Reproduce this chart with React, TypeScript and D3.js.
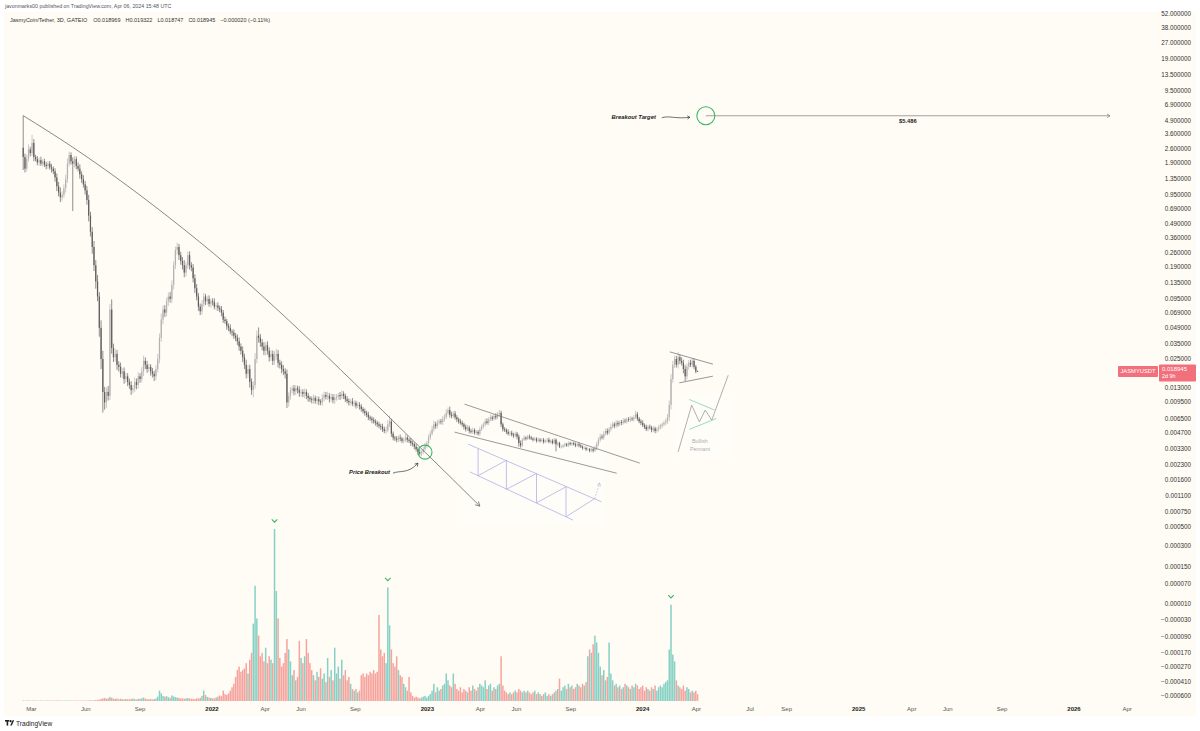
import React from 'react';
import * as d3 from 'd3';

// ---------------- DATA ----------------
const FIRST_DATE = '2021-02-15'; // first 3D candle
const FIRST_OPEN = 2.7;
const closes: number[] = [
  2.2, 1.7, 2.1, 2.6, 2.4, 3.0, 2.2, 2.1, 1.95, 2.05,
  1.9, 2.0, 1.85, 1.8, 1.9, 1.75, 1.7, 1.6, 1.4, 1.15,
  1.0, 0.9, 0.95, 1.1, 1.35, 1.9, 2.3, 2.0, 1.9, 2.1,
  1.8, 1.7, 1.5, 1.35, 1.2, 1.05, 0.85, 0.6, 0.42, 0.3,
  0.2, 0.14, 0.1, 0.05, 0.025, 0.012, 0.0095, 0.012, 0.011, 0.075,
  0.032, 0.026, 0.028, 0.022, 0.021, 0.018, 0.019, 0.016, 0.017, 0.015,
  0.014, 0.0125, 0.013, 0.015, 0.014, 0.017, 0.016, 0.019, 0.024, 0.022,
  0.02, 0.021, 0.019, 0.018, 0.017, 0.02, 0.025, 0.04, 0.06, 0.075,
  0.07, 0.09, 0.1, 0.095, 0.13, 0.2, 0.28, 0.3, 0.25, 0.22,
  0.2, 0.17, 0.2, 0.25, 0.2, 0.19, 0.15, 0.12, 0.1, 0.08,
  0.072, 0.085, 0.1, 0.09, 0.095, 0.085, 0.09, 0.088, 0.08, 0.082,
  0.078, 0.075, 0.07, 0.06, 0.058, 0.052, 0.05, 0.046, 0.045, 0.042,
  0.04, 0.037, 0.033, 0.03, 0.026, 0.022, 0.018, 0.02, 0.015, 0.0125,
  0.014, 0.025, 0.042, 0.04, 0.036, 0.033, 0.03, 0.034, 0.03, 0.026,
  0.028, 0.024, 0.027, 0.028, 0.023, 0.022, 0.02, 0.019, 0.018, 0.0095,
  0.011, 0.0125, 0.013, 0.0122, 0.013, 0.0125, 0.0118, 0.012, 0.0115, 0.012,
  0.011, 0.0105, 0.0102, 0.01, 0.0105, 0.0098, 0.0102, 0.0097, 0.0095, 0.0105,
  0.0112, 0.0108, 0.011, 0.0103, 0.0107, 0.01, 0.0105, 0.0108, 0.0112, 0.0109,
  0.0115, 0.011, 0.0102, 0.0098, 0.0095, 0.0097, 0.0092, 0.0094, 0.0088, 0.009,
  0.0087, 0.0082, 0.0078, 0.0075, 0.0072, 0.0068, 0.0066, 0.0064, 0.0062, 0.006,
  0.0058, 0.0056, 0.0055, 0.0052, 0.005, 0.0051, 0.0058, 0.0062, 0.0047, 0.0043,
  0.0042, 0.0041, 0.0043, 0.0042, 0.004, 0.0041, 0.0043, 0.0041, 0.004, 0.0038,
  0.0037, 0.0035, 0.0033, 0.0031, 0.003, 0.0031, 0.0033, 0.0036, 0.0038, 0.0043,
  0.0047, 0.0052, 0.0058, 0.0056, 0.006, 0.0062, 0.0061, 0.0065, 0.0068, 0.0075,
  0.008, 0.0072, 0.007, 0.0074, 0.0068, 0.0065, 0.0062, 0.006, 0.0058, 0.0055,
  0.0052, 0.0054, 0.005, 0.0049, 0.0051, 0.0048, 0.0049, 0.0047, 0.0052, 0.0055,
  0.0058, 0.0062, 0.006, 0.0065, 0.0068, 0.0066, 0.007, 0.0068, 0.0073, 0.0075,
  0.0058, 0.0052, 0.0051, 0.0049, 0.0047, 0.0048, 0.0046, 0.0045, 0.0047, 0.0044,
  0.0038, 0.0036, 0.0041, 0.0043, 0.0042, 0.0044, 0.0043, 0.0042, 0.0041, 0.0042,
  0.004, 0.0041, 0.004, 0.0041, 0.0039, 0.004, 0.0041, 0.0039, 0.004, 0.0038,
  0.0041, 0.0037, 0.0038, 0.0035, 0.0035, 0.0036, 0.0037, 0.0036, 0.0038, 0.0037,
  0.0038, 0.0037, 0.0036, 0.0037, 0.0036, 0.0035, 0.0034, 0.0034, 0.0033, 0.0033,
  0.0032, 0.0033, 0.0032, 0.0034, 0.0037, 0.0041, 0.0044, 0.0043, 0.0047, 0.005,
  0.0048, 0.0052, 0.0055, 0.0058, 0.0056, 0.006, 0.0058, 0.0061, 0.006, 0.0063,
  0.0062, 0.0065, 0.0064, 0.0066, 0.0065, 0.0068, 0.0073, 0.0066, 0.0062, 0.006,
  0.0057, 0.0055, 0.0052, 0.0055, 0.0054, 0.0051, 0.0053, 0.005, 0.0052, 0.0054,
  0.0056, 0.0058, 0.006, 0.0062, 0.0068, 0.009, 0.016, 0.022, 0.025, 0.022,
  0.026, 0.024, 0.023, 0.02, 0.017, 0.021, 0.023, 0.022, 0.024, 0.021,
  0.018969, 0.018945,
];
// upper / lower wick length, % beyond the candle body
const wickUp: number[] = [
  104, 8, 10, 12, 6, 20, 9, 5, 7, 6, 8, 5, 6, 7, 5, 6, 8, 5, 7, 9,
  10, 12, 8, 9, 10, 12, 8, 6, 9, 7, 6, 8, 10, 7, 9, 8, 10, 12, 9, 11,
  14, 12, 15, 10, 18, 20, 12, 10, 14, 13, 25, 10, 12, 9, 8, 10, 7, 9, 8, 7,
  8, 9, 7, 10, 8, 9, 7, 10, 12, 8, 9, 7, 6, 8, 7, 9, 12, 10, 14, 9,
  10, 8, 9, 11, 10, 9, 8, 10, 7, 8, 9, 12, 7, 8, 9, 7, 8, 9, 10, 8,
  7, 9, 8, 6, 7, 8, 6, 7, 9, 6, 7, 5, 8, 6, 7, 5, 6, 8, 5, 7,
  6, 8, 9, 7, 10, 8, 12, 9, 10, 8, 9, 14, 12, 20, 9, 8, 10, 7, 9, 8,
  9, 8, 10, 12, 9, 7, 8, 9, 7, 10, 8, 7, 6, 8, 7, 6, 9, 7, 6, 8,
  6, 7, 5, 6, 8, 5, 7, 6, 5, 9, 8, 7, 10, 6, 8, 7, 9, 6, 5, 7,
  8, 6, 5, 7, 6, 5, 8, 6, 5, 7, 6, 5, 4, 6, 5, 7, 4, 5, 6, 5,
  5, 6, 5, 7, 6, 8, 10, 14, 6, 5, 4, 6, 5, 7, 4, 5, 8, 5, 4, 6,
  5, 4, 6, 5, 7, 4, 5, 6, 5, 7, 6, 8, 9, 6, 7, 5, 6, 8, 7, 9,
  6, 8, 7, 5, 6, 5, 4, 6, 5, 4, 5, 6, 4, 5, 6, 4, 5, 4, 6, 5,
  5, 6, 7, 5, 6, 4, 5, 6, 5, 7, 5, 4, 5, 4, 6, 4, 5, 4, 5, 4,
  5, 6, 4, 5, 3, 4, 5, 4, 3, 4, 3, 5, 4, 3, 4, 3, 4, 5, 3, 4,
  4, 3, 4, 3, 4, 3, 4, 3, 4, 3, 4, 3, 4, 3, 4, 3, 3, 4, 3, 4,
  3, 4, 3, 5, 6, 5, 7, 5, 6, 5, 6, 5, 7, 6, 5, 6, 5, 4, 5, 6,
  5, 4, 5, 6, 4, 5, 8, 5, 4, 5, 6, 4, 5, 4, 5, 4, 5, 4, 5, 6,
  5, 4, 5, 6, 8, 10, 12, 9, 8, 7, 12, 6, 8, 7, 9, 8, 6, 7, 6, 5,
  4, 1.9,
];
const wickDn: number[] = [
  25, 8, 6, 5, 7, 6, 9, 5, 6, 7, 5, 6, 5, 7, 6, 5, 8, 6, 9, 10,
  8, 10, 7, 6, 9, 8, 6, 7, 65, 8, 7, 6, 9, 8, 7, 9, 10, 12, 10, 14,
  12, 15, 10, 18, 20, 37, 15, 12, 10, 9, 12, 10, 9, 11, 10, 8, 9, 10, 8, 9,
  8, 10, 7, 8, 9, 7, 8, 7, 10, 9, 8, 7, 9, 8, 10, 8, 7, 9, 8, 10,
  9, 8, 10, 8, 9, 10, 8, 9, 10, 8, 9, 10, 8, 7, 9, 8, 9, 10, 8, 9,
  8, 7, 6, 8, 7, 6, 8, 7, 6, 8, 7, 6, 8, 7, 6, 8, 7, 6, 8, 7,
  7, 8, 9, 8, 10, 9, 10, 8, 12, 10, 15, 8, 9, 10, 9, 8, 9, 10, 8, 9,
  8, 9, 8, 9, 10, 8, 9, 8, 10, 12, 9, 8, 7, 9, 8, 7, 9, 8, 7, 9,
  7, 8, 6, 7, 8, 6, 7, 8, 6, 7, 8, 6, 7, 8, 6, 7, 8, 6, 7, 8,
  6, 7, 6, 5, 7, 6, 5, 7, 6, 5, 7, 6, 5, 6, 5, 6, 5, 7, 5, 6,
  6, 5, 7, 6, 5, 6, 5, 6, 7, 6, 5, 6, 5, 6, 5, 6, 5, 6, 5, 6,
  5, 6, 5, 6, 5, 6, 5, 4, 5, 6, 5, 4, 5, 6, 5, 4, 5, 6, 5, 4,
  5, 6, 5, 4, 5, 6, 5, 4, 5, 6, 5, 4, 5, 4, 5, 4, 5, 4, 5, 4,
  4, 5, 4, 5, 4, 5, 4, 5, 4, 5, 6, 5, 4, 5, 4, 5, 4, 5, 4, 6,
  8, 5, 4, 3, 4, 3, 4, 3, 4, 3, 4, 3, 4, 3, 4, 3, 4, 3, 4, 3,
  3, 15, 4, 3, 4, 3, 4, 3, 4, 3, 4, 3, 4, 3, 4, 3, 4, 3, 4, 3,
  4, 3, 4, 3, 5, 4, 5, 4, 5, 4, 5, 4, 5, 4, 5, 4, 5, 4, 5, 4,
  4, 5, 4, 5, 4, 5, 4, 5, 4, 5, 4, 5, 4, 5, 4, 5, 4, 5, 4, 5,
  4, 5, 4, 5, 6, 8, 10, 8, 7, 6, 8, 7, 6, 9, 10, 7, 6, 5, 6, 5,
  4, 1,
];
// volume, relative units (largest bar = 100)
const volumes: number[] = [
  0.3, 0.2, 0.2, 0.3, 0.2, 0.2, 0.3, 0.2, 0.2, 0.2, 0.3, 0.2, 0.2, 0.2, 0.3, 0.2, 0.2, 0.2, 0.2, 0.3,
  0.2, 0.3, 0.2, 0.2, 0.3, 0.2, 0.2, 0.3, 0.2, 0.2, 0.3, 0.2, 0.2, 0.3, 0.2, 0.2, 0.3, 0.3, 0.4, 0.3,
  0.4, 0.5, 0.6, 0.8, 1.2, 1.5, 1.8, 1.3, 1.6, 2.4, 1.9, 1.4, 1.2, 1.5, 1.0, 1.3, 1.1, 0.9, 1.2, 1.0,
  1.0, 1.2, 1.4, 1.1, 0.9, 1.3, 1.2, 1.6, 2.0, 1.4, 1.1, 1.0, 1.2, 0.9, 1.1, 1.5, 2.5, 6, 4.5, 3,
  2.5, 2.8, 2.2, 1.8, 3.2, 2.6, 2.2, 2.0, 1.8, 1.5, 1.6, 1.3, 1.5, 1.8, 1.4, 1.3, 1.2, 1.1, 1.6, 1.4,
  1.8, 3, 6, 3.5, 2.4, 2, 1.8, 1.6, 1.5, 2.1, 2.6, 3.2, 2.8, 6, 4, 3.5, 4.5, 6, 8, 10,
  14, 18, 20, 17, 18, 19, 22, 16, 24, 28, 45, 67, 48, 38, 26, 28, 23, 31, 22, 26,
  24, 22, 100, 64, 48, 25, 20, 22, 28, 36, 30, 23, 15, 18, 12, 14, 35, 25, 22, 26,
  36, 28, 22, 18, 15, 12, 17, 14, 19, 13, 16, 11, 25, 14, 18, 12, 31, 16, 20, 13,
  24, 15, 18, 12, 14, 10, 7, 6, 7, 5, 6, 15, 16, 14, 16, 15, 17, 16, 18, 16,
  17, 50, 30, 26, 28, 22, 66, 44, 30, 22, 20, 26, 18, 15, 14, 10, 8, 6, 14, 5,
  3, 2, 2.5, 2, 1.5, 2, 2.5, 3, 2, 3, 4, 6, 10, 5, 8, 6, 7, 9, 10, 16,
  12, 9, 8, 16, 10, 7, 6, 8, 5, 7, 6, 5, 8, 6, 9, 7, 6, 8, 10, 9,
  8, 12, 7, 9, 10, 6, 8, 7, 9, 10, 26, 9, 6, 5, 4, 5, 4, 5, 6, 5,
  7, 6, 5, 6, 5, 6, 5, 4, 5, 6, 4, 5, 4, 3, 4, 5, 3, 4, 3, 4,
  5, 6, 7, 13, 6, 8, 9, 7, 10, 8, 9, 7, 8, 10, 9, 8, 10, 9, 11, 26,
  30, 28, 33, 38, 34, 28, 20, 15, 18, 12, 14, 34, 16, 12, 9, 10, 8, 9, 7, 8,
  10, 9, 8, 7, 9, 8, 10, 9, 7, 8, 9, 6, 8, 7, 6, 8, 7, 9, 6, 8,
  9, 8, 10, 11, 12, 30, 56, 27, 23, 12, 9, 8, 7, 9, 6, 8, 7, 5, 6, 5,
  6, 4,
];
const volumePeakMarks = [142, 206, 366];

const priceTicks = [52, 38, 27, 19, 13.5, 9.5, 6.9, 4.9, 3.6, 2.6, 1.9, 1.35, 0.95, 0.69, 0.49, 0.36, 0.26, 0.19,
  0.135, 0.095, 0.069, 0.049, 0.035, 0.025, 0.013, 0.0095, 0.0065, 0.0047, 0.0033, 0.0023, 0.0016, 0.0011,
  0.00075, 0.0005, 0.0003, 0.00015, 0.00007, 0.00001, -0.00003, -0.00009, -0.00017, -0.00027, -0.00041, -0.0006];
const timeTickDates = ['2021-03-01', '2021-06-01', '2021-09-01', '2022-01-01', '2022-04-01', '2022-06-01', '2022-09-01',
  '2023-01-01', '2023-04-01', '2023-06-01', '2023-09-01', '2024-01-01', '2024-04-01', '2024-07-01', '2024-09-01',
  '2025-01-01', '2025-04-01', '2025-06-01', '2025-09-01', '2026-01-01', '2026-04-01'];
const timeTickLabels = ['Mar', 'Jun', 'Sep', '2022', 'Apr', 'Jun', 'Sep', '2023', 'Apr', 'Jun', 'Sep', '2024', 'Apr',
  'Jul', 'Sep', '2025', 'Apr', 'Jun', 'Sep', '2026', 'Apr'];

const headerText = 'javonmarks00 published on TradingView.com, Apr 06, 2024 15:48 UTC';
const legendTitle = 'JasmyCoin/Tether, 3D, GATEIO';
const legendValues = ['O0.018969', 'H0.019322', 'L0.018747', 'C0.018945', '\u22120.000020 (\u22120.11%)'];
const symbolName = 'JASMYUSDT';
const countdown = '2d 9h';

// drawings (time, price anchors)
const trendDates = ['2021-02-15', '2021-05-10', '2021-12-11', '2022-12-28', '2023-03-31'];
const trendPrices = [5.5, 2.73, 0.3356, 0.00309, 0.000865];
const breakoutDate = '2022-12-28';
const breakoutPrice = 0.00309;
const targetDate = '2024-04-17';
const targetEndDate = '2026-03-03';
const targetPrice = 5.486;
const channelUpper: [string, number][] = [['2023-03-05', 0.00913], ['2023-12-27', 0.0024]];
const channelLower: [string, number][] = [['2023-02-16', 0.00487], ['2023-11-18', 0.0019]];
const schemUpper: [string, number][] = [['2023-03-11', 0.00371], ['2023-10-23', 0.000962]];
const schemLower: [string, number][] = [['2023-03-14', 0.00196], ['2023-09-05', 0.000608]];
const schemZigDates = ['2023-03-28', '2023-03-28', '2023-05-15', '2023-05-15', '2023-07-05', '2023-07-05', '2023-08-24', '2023-08-24', '2023-10-12'];
const schemZigPrices = [0.00336, 0.00179, 0.00257, 0.0013, 0.00189, 0.000938, 0.00138, 0.000662, 0.001045];
const schemArrow: [string, number][] = [['2023-10-12', 0.001045], ['2023-10-20', 0.00151]];
const pennantUpper: [string, number][] = [['2024-02-16', 0.02929], ['2024-04-29', 0.02229]];
const pennantLower: [string, number][] = [['2024-03-03', 0.0147], ['2024-04-29', 0.01706]];
const bullDates = ['2024-03-01', '2024-03-24', '2024-04-06', '2024-04-16', '2024-04-27', '2024-05-25'];
const bullPrices = [0.00311, 0.00893, 0.00614, 0.00799, 0.00638, 0.01745];
const bullFlagUpper: [string, number][] = [['2024-03-20', 0.01015], ['2024-05-02', 0.00799]];
const bullFlagLower: [string, number][] = [['2024-03-20', 0.00518], ['2024-05-05', 0.00663]];
const bullLabelDate = '2024-04-07';
const bullLabelPrices = [0.00391, 0.00331];
const bullLabels = ['Bullish', 'Pennant'];

// ---------------- HELPERS ----------------
const parse = d3.utcParse('%Y-%m-%d');
const LOG_OFFSET = 0.0001;
const LOG_SHIFT = 4;
function toLog(p: number) {
  const m = Math.abs(p);
  if (m < 1e-15) return 0;
  const r = Math.log10(m + LOG_OFFSET) + LOG_SHIFT;
  return p < 0 ? -r : r;
}
function fmtPrice(p: number) {
  const s = Math.abs(p).toFixed(6);
  return p < 0 ? '\u2212' + s : s;
}
function arrowHead(x1: number, y1: number, x2: number, y2: number, len = 5, spread = 0.5) {
  const a = Math.atan2(y2 - y1, x2 - x1);
  const ax = x2 - len * Math.cos(a - spread), ay = y2 - len * Math.sin(a - spread);
  const bx = x2 - len * Math.cos(a + spread), by = y2 - len * Math.sin(a + spread);
  return `M${ax},${ay}L${x2},${y2}L${bx},${by}`;
}

const FONT = "'Liberation Sans', Arial, sans-serif";
const BG = '#fffcf5';
const UP = '#b3b3b3';
const DOWN = '#5e5e5e';
const VOL_UP = '#86d0c4';
const VOL_DOWN = '#f6a39e';
const GREEN = '#3bb56a';
const TAG = '#f2707c';

export default function App() {
  const x = d3.scaleUtc().domain([parse('2022-01-01')!, parse('2026-01-01')!]).range([212, 1074]);
  const yT = d3.scaleLinear().domain([toLog(52), toLog(0.025)]).range([14.2, 359]);
  const y = (p: number) => yT(toLog(p));
  const vy = d3.scaleLinear().domain([0, 100]).range([701, 529]);
  const start = parse(FIRST_DATE)!;
  const n = Math.min(closes.length, wickUp.length, wickDn.length, volumes.length);

  const candles = d3.range(n).map((i) => {
    const o = i === 0 ? FIRST_OPEN : closes[i - 1];
    const c = closes[i];
    const hi = Math.max(o, c) * (1 + wickUp[i] / 100);
    const lo = Math.min(o, c) * (1 - wickDn[i] / 100);
    return { i, date: d3.utcDay.offset(start, 3 * i), o, c, hi, lo, v: volumes[i], up: c >= o };
  });

  const pt = (d: string, p: number): [number, number] => [x(parse(d)!), y(p)];
  const seg = (s: [string, number][]) => {
    const a = pt(s[0][0], s[0][1]);
    const b = pt(s[1][0], s[1][1]);
    return { x1: a[0], y1: a[1], x2: b[0], y2: b[1] };
  };

  const trendPts = trendDates.map((d, i) => pt(d, trendPrices[i]));
  const trendPath = d3.line().curve(d3.curveMonotoneX)(trendPts) || '';
  const tpl = trendPts[trendPts.length - 1];
  const tpp = trendPts[trendPts.length - 2];

  const [bx, by] = pt(breakoutDate, breakoutPrice);
  const [tx, ty] = pt(targetDate, targetPrice);
  const txEnd = x(parse(targetEndDate)!);

  const cu = seg(channelUpper), cl = seg(channelLower);
  const su = seg(schemUpper), sl = seg(schemLower);
  const zig = schemZigDates.map((d, i) => pt(d, schemZigPrices[i]));
  const sa = seg(schemArrow);
  const pu = seg(pennantUpper), pl = seg(pennantLower);
  const bull = bullDates.map((d, i) => pt(d, bullPrices[i]));
  const bfu = seg(bullFlagUpper), bfl = seg(bullFlagLower);

  const schemBox = {
    x0: Math.min(su.x1, sl.x1) - 5, x1: Math.max(su.x2, sa.x2) + 4,
    y0: su.y1 - 6, y1: sl.y2 + 6,
  };
  const bullXs = bull.map((p) => p[0]);
  const bullYs = bull.map((p) => p[1]);
  const bullBox = {
    x0: (d3.min(bullXs) as number) - 4, x1: (d3.max(bullXs) as number) + 6,
    y0: (d3.min(bullYs) as number) + 19, y1: (d3.max(bullYs) as number) + 6,
  };

  const last = candles[candles.length - 1];
  const lastY = y(last.c);
  const bodyW = 1.25;

  return (
    <svg width={1200} height={731} viewBox="0 0 1200 731"
      style={{ position: 'absolute', left: 0, top: 0, display: 'block', background: '#ffffff' }}
      fontFamily={FONT}>
      <rect x={0} y={0} width={1200} height={731} fill="#ffffff" />
      <rect x={4} y={12} width={1192} height={704} fill={BG} />

      {/* header */}
      <text x={5} y={8} fontSize={5.3} fill="#555">{headerText}</text>
      <text x={10} y={22} fontSize={5.5} fill="#333" style={{ whiteSpace: 'pre' }}>
        <tspan>{legendTitle}</tspan>
        {legendValues.map((v, i) => (
          <tspan key={i} dx={i === 0 ? 6 : 5}>{v}</tspan>
        ))}
      </text>

      {/* backdrops of drawings */}
      <rect x={schemBox.x0} y={schemBox.y0} width={schemBox.x1 - schemBox.x0} height={schemBox.y1 - schemBox.y0}
        fill="#ffffff" opacity={0.35} />
      <rect x={bullBox.x0} y={bullBox.y0} width={bullBox.x1 - bullBox.x0} height={bullBox.y1 - bullBox.y0}
        fill="#ffffff" opacity={0.35} />

      {/* volume */}
      <g>
        {candles.map((c) => {
          const cx = x(c.date);
          const top = vy(c.v);
          return (
            <rect key={c.i} x={cx - 0.75} y={top} width={1.5} height={Math.max(0.3, vy(0) - top)}
              fill={c.up ? VOL_UP : VOL_DOWN} />
          );
        })}
        {volumePeakMarks.map((i) => {
          const c = candles[i];
          const cx = x(c.date);
          const cy = vy(c.v) - 8;
          return <path key={i} d={`M${cx - 2.8},${cy - 1.6}L${cx},${cy + 1.2}L${cx + 2.8},${cy - 1.6}`}
            fill="none" stroke={GREEN} strokeWidth={1.1} />;
        })}
      </g>

      {/* candles */}
      <g>
        {candles.map((c) => {
          const cx = x(c.date);
          const col = c.up ? UP : DOWN;
          const yt = y(Math.max(c.o, c.c));
          const yb = y(Math.min(c.o, c.c));
          return (
            <g key={c.i}>
              <line x1={cx} x2={cx} y1={y(c.hi)} y2={y(c.lo)} stroke={col} strokeWidth={0.7} />
              <rect x={cx - bodyW / 2} y={yt} width={bodyW} height={Math.max(0.6, yb - yt)} fill={col} />
            </g>
          );
        })}
      </g>

      {/* main down trendline */}
      <path d={trendPath} fill="none" stroke="#6b6b6b" strokeWidth={0.8} />
      <path d={arrowHead(tpp[0], tpp[1], tpl[0], tpl[1], 5, 0.5)} fill="none" stroke="#6b6b6b" strokeWidth={0.8} />

      {/* descending channel */}
      <line {...cu} stroke="#707070" strokeWidth={0.7} />
      <line {...cl} stroke="#707070" strokeWidth={0.7} />

      {/* schematic channel */}
      <g stroke="#aeb2e4" strokeWidth={0.8} fill="none">
        <line {...su} />
        <line {...sl} />
        <path d={d3.line()(zig) || ''} />
        <line {...sa} strokeDasharray="1.5,1.5" />
        <path d={arrowHead(sa.x1, sa.y1, sa.x2, sa.y2, 3.5, 0.5)} />
      </g>

      {/* pennant around price */}
      <line {...pu} stroke="#6a6a6a" strokeWidth={0.7} />
      <line {...pl} stroke="#6a6a6a" strokeWidth={0.7} />

      {/* bullish pennant schematic */}
      <path d={d3.line()(bull) || ''} fill="none" stroke="#9a9a9a" strokeWidth={0.8} />
      <line {...bfu} stroke="#7fd3a6" strokeWidth={0.8} />
      <line {...bfl} stroke="#7fd3a6" strokeWidth={0.8} />
      {bullLabels.map((t, i) => (
        <text key={t} x={x(parse(bullLabelDate)!)} y={y(bullLabelPrices[i])} fontSize={5.4} fill="#b0b0b0"
          textAnchor="middle" dominantBaseline="middle">{t}</text>
      ))}

      {/* price breakout marker */}
      <circle cx={bx} cy={by} r={7} fill="none" stroke={GREEN} strokeWidth={1.1} />
      <text x={bx - 35} y={by + 22} fontSize={5.8} fontWeight="bold" fontStyle="italic" fill="#222"
        textAnchor="end">Price Breakout</text>
      <path d={`M${bx - 32},${by + 21}C${bx - 25},${by + 18} ${bx - 17},${by + 22} ${bx - 7},${by + 11}`}
        fill="none" stroke="#333" strokeWidth={0.7} />
      <path d={arrowHead(bx - 17, by + 22, bx - 7, by + 11, 3.5, 0.55)} fill="none" stroke="#333" strokeWidth={0.7} />

      {/* breakout target */}
      <line x1={tx} x2={txEnd} y1={ty} y2={ty} stroke="#8a8a8a" strokeWidth={0.8} />
      <path d={arrowHead(tx, ty, txEnd, ty, 3.5, 0.55)} fill="none" stroke="#8a8a8a" strokeWidth={0.8} />
      <circle cx={tx} cy={ty} r={9} fill="none" stroke={GREEN} strokeWidth={1.1} />
      <text x={(tx + txEnd) / 2} y={ty + 7} fontSize={5.8} fontWeight="bold" fill="#222" textAnchor="middle">
        {'$' + targetPrice.toFixed(3)}
      </text>
      <text x={tx - 50} y={ty + 3} fontSize={5.8} fontWeight="bold" fontStyle="italic" fill="#222"
        textAnchor="end">Breakout Target</text>
      <path d={`M${tx - 44},${ty + 2}C${tx - 37},${ty - 0.5} ${tx - 29},${ty + 3.5} ${tx - 16},${ty + 1.5}`}
        fill="none" stroke="#333" strokeWidth={0.7} />
      <path d={arrowHead(tx - 24, ty + 2.2, tx - 16, ty + 1.5, 3, 0.6)} fill="none" stroke="#333" strokeWidth={0.7} />

      {/* price axis */}
      <g fontSize={6.3} fill="#333" textAnchor="end">
        {priceTicks.map((p) => (
          <text key={p} x={1191} y={y(p)} dominantBaseline="middle">{fmtPrice(p)}</text>
        ))}
      </g>

      {/* price tags */}
      <rect x={1118} y={lastY - 5.5} width={40} height={11} fill={TAG} rx={1} />
      <text x={1138} y={lastY} fontSize={5.8} fill="#fff" textAnchor="middle" dominantBaseline="middle">{symbolName}</text>
      <rect x={1159} y={lastY - 7} width={37} height={17} fill={TAG} rx={1} />
      <text x={1162} y={lastY - 2} fontSize={6} fill="#fff" dominantBaseline="middle">{fmtPrice(last.c)}</text>
      <text x={1162} y={lastY + 5.5} fontSize={5.4} fill="#fff" dominantBaseline="middle">{countdown}</text>

      {/* time axis */}
      <g fontSize={6} textAnchor="middle">
        {timeTickDates.map((d, i) => {
          const isYear = /^\d{4}$/.test(timeTickLabels[i]);
          return (
            <text key={d} x={x(parse(d)!)} y={711} fill={isYear ? '#222' : '#555'}
              fontWeight={isYear ? 'bold' : 'normal'}>{timeTickLabels[i]}</text>
          );
        })}
      </g>

      {/* footer logo */}
      <g transform="translate(5,720)" fill="#222">
        <rect x={0} y={0} width={4.2} height={1.6} />
        <rect x={1.6} y={0} width={1.6} height={5.6} />
        <circle cx={5.6} cy={1.2} r={1.1} />
        <path d="M5.2,5.6L7.6,0.2L9.2,0.2L6.8,5.6Z" />
      </g>
      <text x={16} y={725.5} fontSize={6.6} fill="#222">TradingView</text>
    </svg>
  );
}
